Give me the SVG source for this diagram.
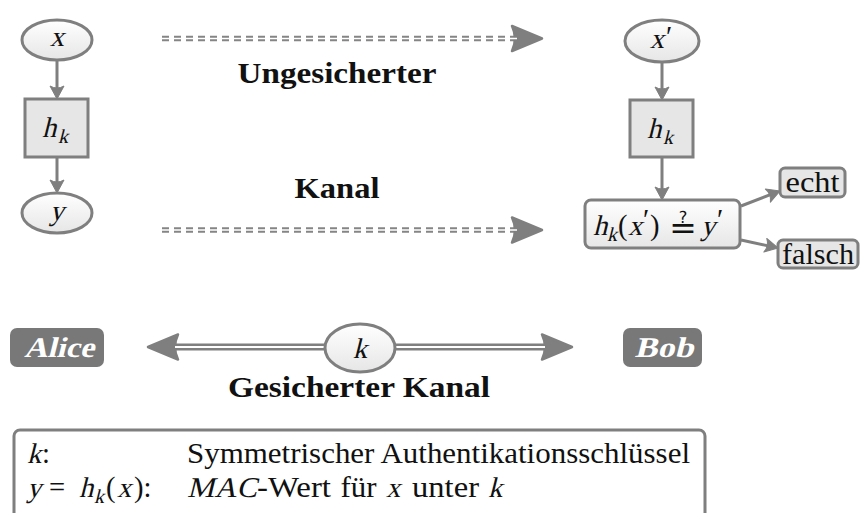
<svg xmlns="http://www.w3.org/2000/svg" width="860" height="513" viewBox="0 0 860 513">
<style>
.node{fill:url(#g);stroke:#7f7f7f;stroke-width:3}
.box{fill:#e6e6e6;stroke:#7f7f7f;stroke-width:3}
.who{fill:#787878;stroke:none}
.edge{stroke:#7f7f7f;stroke-width:3;fill:none;marker-end:url(#head)}
.dout{stroke:#858585;stroke-width:5.5;fill:none;stroke-dasharray:7 5;marker-end:url(#big)}
.din{stroke:#fff;stroke-width:1.6;fill:none;stroke-dasharray:7 5}
.sout{stroke:#7f7f7f;stroke-width:7;fill:none;marker-end:url(#big)}
.sin{stroke:#fff;stroke-width:2;fill:none}
text{font-family:"Liberation Serif","Times New Roman",serif;font-size:28.6px;fill:#111;font-style:normal}
.sub{font-size:20px}
.bf{font-weight:bold}
.wl{font-weight:bold;fill:#fff}
.op{font-family:"DejaVu Serif","DejaVu Sans",serif;font-size:33px}
</style>
<defs>
<linearGradient id="g" x1="0" y1="0" x2="0" y2="1">
<stop offset="0" stop-color="#ffffff"/>
<stop offset="1" stop-color="#e6e6e6"/>
</linearGradient>
<marker id="head" markerUnits="userSpaceOnUse" orient="auto" refX="0" refY="0" markerWidth="20" markerHeight="20" overflow="visible">
<path d="M9,0 L-4,-7 Q0,0 -4,7 Z" fill="#7f7f7f" stroke="#7f7f7f" stroke-width="1" stroke-linejoin="round"/>
</marker>
<marker id="big" markerUnits="userSpaceOnUse" orient="auto" refX="0" refY="0" markerWidth="40" markerHeight="40" overflow="visible">
<path d="M25,0 L-5,-12.5 Q1,0 -5,12.5 Z" fill="#7f7f7f" stroke="#7f7f7f" stroke-width="2.5" stroke-linejoin="round"/>
</marker>
</defs>

<g id="connectors">
<line class="edge" x1="57" y1="61" x2="57" y2="90"/>
<line class="edge" x1="57" y1="157" x2="57" y2="184"/>
<line class="edge" x1="662" y1="62" x2="662" y2="91"/>
<line class="edge" x1="662" y1="157" x2="662" y2="191"/>
<line class="edge" x1="741" y1="206" x2="771.6" y2="194.2"/>
<line class="edge" x1="741" y1="240" x2="769.2" y2="246.1"/>
<g id="insecure-top">
<line class="dout" x1="162" y1="38.5" x2="517" y2="38.5"/>
<line class="din" x1="162" y1="38.5" x2="517" y2="38.5"/>
</g>
<g id="insecure-bottom">
<line class="dout" x1="162" y1="230" x2="517" y2="230"/>
<line class="din" x1="162" y1="230" x2="517" y2="230"/>
</g>
<g id="secure-left">
<line class="sout" x1="326" y1="347" x2="173" y2="347"/>
<line class="sin" x1="326" y1="347" x2="175" y2="347"/>
</g>
<g id="secure-right">
<line class="sout" x1="394" y1="347" x2="547" y2="347"/>
<line class="sin" x1="394" y1="347" x2="545" y2="347"/>
</g>
</g>

<g id="channel-labels">
<text class="bf" x="337" y="83" text-anchor="middle" textLength="199" lengthAdjust="spacingAndGlyphs">Ungesicherter</text>
<text class="bf" x="337" y="198" text-anchor="middle" textLength="85" lengthAdjust="spacingAndGlyphs">Kanal</text>
<text class="bf" x="359" y="397" text-anchor="middle" textLength="262" lengthAdjust="spacingAndGlyphs">Gesicherter Kanal</text>
</g>

<g id="node-x">
<ellipse class="node" cx="57" cy="40" rx="35" ry="20"/>
<text transform="translate(57,46) skewX(-14)" text-anchor="middle">x</text>
</g>
<g id="node-hk-alice">
<rect class="box" x="25" y="99" width="63" height="58"/>
<text transform="translate(42,137) skewX(-14)">h</text>
<text class="sub" transform="translate(58,143) skewX(-14)">k</text>
</g>
<g id="node-y">
<ellipse class="node" cx="57" cy="213" rx="35" ry="20"/>
<text transform="translate(57,220) skewX(-14)" text-anchor="middle">y</text>
</g>

<g id="node-xp">
<ellipse class="node" cx="662" cy="41" rx="37" ry="21"/>
<text transform="translate(657,48) skewX(-14)" text-anchor="middle">x</text>
<text x="666" y="46" font-size="22">′</text>
</g>
<g id="node-hk-bob">
<rect class="box" x="630" y="100" width="63" height="57"/>
<text transform="translate(647,138) skewX(-14)">h</text>
<text class="sub" transform="translate(663,144) skewX(-14)">k</text>
</g>
<g id="node-compare">
<rect class="node" x="585" y="200" width="155" height="48" rx="6"/>
<text transform="translate(593,235) skewX(-14)">h</text>
<text class="sub" transform="translate(607,241) skewX(-14)">k</text>
<text x="618" y="235">(</text>
<text transform="translate(628,235) skewX(-14)">x</text>
<text x="643" y="229" font-size="22">′</text>
<text x="650" y="235">)</text>
<text class="op" x="683" y="239" text-anchor="middle">≟</text>
<text transform="translate(701,235) skewX(-14)">y</text>
<text x="717" y="229" font-size="22">′</text>
</g>
<g id="node-echt">
<rect class="box" x="780" y="168" width="65" height="29" rx="5"/>
<text x="812.5" y="192" text-anchor="middle" textLength="54" lengthAdjust="spacingAndGlyphs">echt</text>
</g>
<g id="node-falsch">
<rect class="box" x="778" y="240" width="80" height="28" rx="5"/>
<text x="818" y="264" text-anchor="middle" textLength="72" lengthAdjust="spacingAndGlyphs">falsch</text>
</g>

<g id="node-alice">
<rect class="who" x="10" y="328" width="94" height="39" rx="7"/>
<text class="wl" transform="translate(59,357) skewX(-14)" text-anchor="middle" textLength="70" lengthAdjust="spacingAndGlyphs">Alice</text>
</g>
<g id="node-k">
<ellipse class="node" cx="360" cy="348" rx="35" ry="24"/>
<text transform="translate(360,358) skewX(-14)" text-anchor="middle">k</text>
</g>
<g id="node-bob">
<rect class="who" x="623" y="328" width="79" height="39" rx="7"/>
<text class="wl" transform="translate(664,357) skewX(-14)" text-anchor="middle" textLength="59" lengthAdjust="spacingAndGlyphs">Bob</text>
</g>

<g id="legend">
<rect x="14" y="430" width="691" height="110" rx="6" fill="#fff" stroke="#7f7f7f" stroke-width="3"/>
<text transform="translate(27,463) skewX(-14)">k</text>
<text x="42" y="463">:</text>
<text x="187" y="463" textLength="503" lengthAdjust="spacingAndGlyphs">Symmetrischer Authentikationsschlüssel</text>
<text transform="translate(27,497) skewX(-14)">y</text>
<text x="49" y="497">=</text>
<text transform="translate(79,497) skewX(-14)">h</text>
<text class="sub" transform="translate(94,503) skewX(-14)">k</text>
<text x="106" y="497">(</text>
<text transform="translate(117,497) skewX(-14)">x</text>
<text x="134" y="497">):</text>
<text transform="translate(187,497) skewX(-14)" textLength="70" lengthAdjust="spacingAndGlyphs">MAC</text>
<text x="257" y="497" textLength="74" lengthAdjust="spacingAndGlyphs">-Wert</text>
<text x="340.5" y="497" textLength="36" lengthAdjust="spacingAndGlyphs">für</text>
<text transform="translate(386,497) skewX(-14)">x</text>
<text x="412" y="497" textLength="67" lengthAdjust="spacingAndGlyphs">unter</text>
<text transform="translate(488,497) skewX(-14)">k</text>
</g>
</svg>
